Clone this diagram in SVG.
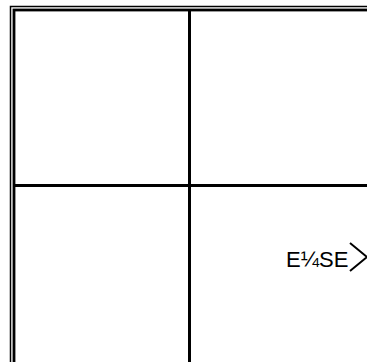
<svg xmlns="http://www.w3.org/2000/svg" width="367" height="362" viewBox="0 0 367 362">
<style>
.ln{stroke:#000;fill:none}
.lbl{font-family:"Liberation Sans",Arial,sans-serif;font-size:22px;fill:#000}
</style>
<rect width="367" height="362" fill="#fff"/>
<g id="frame">
<rect x="10.5" y="6.5" width="400" height="400" class="ln" stroke-width="1.5"/>
<rect x="14" y="10" width="400" height="400" class="ln" stroke-width="2.8"/>
</g>
<g id="connectors">
<line x1="189.5" y1="10" x2="189.5" y2="362" class="ln" stroke-width="3"/>
<line x1="14" y1="185.5" x2="367" y2="185.5" class="ln" stroke-width="3"/>
</g>
<g id="label">
<text x="286" y="267" class="lbl">E¼SE</text>
<polyline points="350,243 367,257 350,271" class="ln" stroke-width="2"/>
</g>
</svg>
